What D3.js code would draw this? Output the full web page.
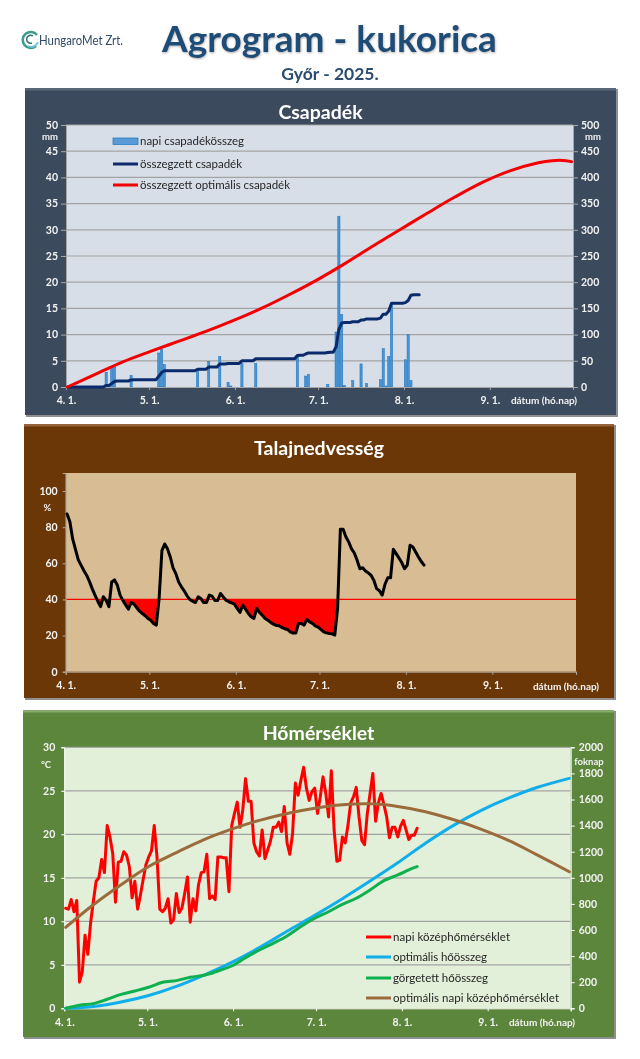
<!DOCTYPE html>
<meta charset="utf-8">
<script src="https://d3js.org/d3.v7.min.js"></script>
<style>
  html, body { margin: 0; padding: 0; background: #fff; }
  text { font-family: Lato, "Open Sans", sans-serif; }
  svg { filter: blur(0.3px); }
</style>
<body>
<div id="agrogram"></div>
<script>
// days are counted from April 1
const monthDays = [0, 30, 61, 91, 122, 153, 183];
const monthLabels = ["4. 1.", "5. 1.", "6. 1.", "7. 1.", "8. 1.", "9. 1.", ""];

// precipitation
const rainDays = [14,16,17,23,33,34,35,47,51,55,58,59,63,68,83,86,87,94,97,98,99,100,103,106,108,113,114,115,116,117,122,123,124];
const rainValues = [2.8,3.7,4.0,2.2,6.5,7.2,4.3,3.2,4.9,5.8,0.9,0.2,4.5,4.5,5.7,2.1,2.4,0.5,10.5,32.6,13.8,0.3,1.2,4.4,0.7,1.4,7.3,0.2,5.8,16,5.2,10,1.2];
const rainSum = [0,0,0,0,0,0,0,0,0,0,0,0,0,0,3,3,6.5,10.5,11.5,11.5,11.5,11.5,11.5,13.5,14,14,14,14,14,14,14,14,14,20.5,27.5,31,31,31,31,31,31,31,31,31,31,31,31,34,34,34,34,38,38,38,38,44,44,44,45,45,45,45,45,50,50,50,50,50,54,54,54,54,54,54,54,54,54,54,54,54,54,54,54,60,60.5,60.5,63,65,65,65,65,65,65,65,66,66.5,66.5,77,110,122,123,123,123,124.5,124.5,124.5,128,128,130,130,130,130,130,131.5,139,139,145,160,160,160,160,160,161,165,175,176,176,176];
const rainOptDays = [0,10,20,30,40,50,60,70,80,90,100,110,120,130,140,150,160,170,175,180,182];
const rainOptValues = [0,24,48,68,87,106,127,150,176,204,235,268,300,332,363,391,413,428,432,432,430];

// soil moisture
const soilValues = [87.3,83,73.5,67.7,62,59,56,53.4,50,46,42.4,39,36,41.5,39.5,36,49.7,50.8,48,42.4,39.5,37,34.6,38.3,37.4,35.4,33.5,32.2,31,29.5,28.5,26.7,25.8,40.5,67,70.7,68,63.5,57.5,54.3,49.7,47,44.8,42,40,39,38.3,41.4,40.5,38.3,38.3,42.4,41.8,39.4,39.4,43.3,41.4,39.6,38.7,38.1,37.4,35,32.8,36.8,34.6,32.2,30.4,29.5,35,32.8,31.3,29.5,28.5,27.3,26.3,25.6,25.4,24.5,23.8,23.4,22.1,21.4,21.4,26.7,26.7,25.8,28.9,27.6,26.7,25.4,24.7,23.4,22.1,21.5,21.2,21,20.3,35,78.8,78.8,74.6,71.8,68,65.7,61.7,57,57.6,55.8,54.7,53.4,50.6,46,44.8,42.4,48.4,52,52,67.8,65.4,63,60.4,57,59,70,69,66.3,63.5,61,59];
const soilLimit = 40;

// temperature
const tempValues = [11.5,11.4,12.5,11.1,12.4,3,4.2,8.4,6.2,9.8,12.3,14.6,15,17.1,15.6,21,19.7,17.8,12.2,16.8,16.9,18,17.6,16.3,12.7,14.6,11.4,13,14.8,16.5,17.4,18.1,21,17.4,11.4,11.1,11.5,12.6,9.8,10.2,13.2,11,11.5,13.2,15.1,9.9,12.6,11.2,14.2,15.6,15.7,17.7,12.6,12.9,12.5,17.4,17.4,17.3,17.3,13.4,21,22.4,23.7,20.8,22.8,26.4,23.8,23.8,19,18,17.5,20.5,17.2,18.2,19.2,20.8,20.8,21.4,20.3,23.2,19,17.7,20.1,25.9,24.5,26.2,27.7,25.3,23.9,24.9,25.3,22.4,24.3,26.6,24.7,22,27.3,20.5,16.9,17,19.7,19,21,23.6,24.3,25.4,22,19.3,18.8,22.4,24.7,27,21.5,23.6,24.7,23.4,22,19.6,20.8,20.8,19.7,20.9,21.6,20.5,19.4,19.9,19.9,20.7];
const tempOptDays = [0,10,20,30,40,50,60,70,80,90,100,110,120,130,140,150,160,170,182];
const tempOptValues = [9.3,11.9,14.2,16.3,17.9,19.4,20.6,21.6,22.4,23,23.4,23.5,23.2,22.6,21.7,20.6,19.3,17.7,15.7];
const heatOptDays = [0,10,20,30,40,50,60,70,80,90,100,110,120,130,140,150,160,170,182];
const heatOptValues = [0,14,48,98,168,255,352,465,590,712,840,975,1115,1265,1400,1515,1610,1690,1762];
const heatDays = [0,5,10,15,20,25,30,35,40,45,50,55,60,65,70,75,80,85,90,95,100,105,110,115,120,125,127];
const heatValues = [0,23,36,69,107,133,161,199,212,238,253,286,324,388,447,498,554,626,690,740,797,843,907,978,1022,1070,1086];

const svg = d3.select("#agrogram").append("svg")
  .attr("width", 640).attr("height", 1059)
  .style("display", "block");

const defs = svg.append("defs");
const glow = defs.append("filter").attr("id", "titleShadow").attr("x", "-5%").attr("y", "-20%").attr("width", "110%").attr("height", "140%");
glow.append("feDropShadow").attr("dx", 0.5).attr("dy", 1).attr("stdDeviation", 1).attr("flood-color", "#888").attr("flood-opacity", 0.7);

// header
svg.append("text").attr("x", 329.5).attr("y", 52).attr("text-anchor", "middle")
  .attr("font-size", 37).attr("font-weight", 700).attr("fill", "#1f4e79")
  .attr("filter", "url(#titleShadow)").text("Agrogram - kukorica");
svg.append("text").attr("x", 330).attr("y", 80).attr("text-anchor", "middle")
  .attr("font-size", 17.5).attr("font-weight", 700).attr("fill", "#2c4d70").text("Győr - 2025.");

// logo
const logo = svg.append("g");
logo.append("path").attr("d", "M37 35 A8 8 0 1 0 36 46").attr("fill", "none").attr("stroke", "#3f9a8a").attr("stroke-width", 2.5);
logo.append("path").attr("d", "M28 46 A7 7 0 0 0 38 42").attr("fill", "none").attr("stroke", "#6cc0d8").attr("stroke-width", 1.8);
logo.append("path").attr("d", "M33 36 A4 4 0 1 0 32 43").attr("fill", "none").attr("stroke", "#2f6f73").attr("stroke-width", 1.5);
logo.append("text").attr("x", 39).attr("y", 45).attr("font-size", 12.5).attr("fill", "#2e4a68")
  .attr("textLength", 84).attr("lengthAdjust", "spacingAndGlyphs").text("HungaroMet Zrt.");

function panel(box, fill, light, title, titleY) {
  svg.append("rect").attr("x", box.x + 1).attr("y", box.y + 1).attr("width", box.w + 1).attr("height", box.h + 1).attr("fill", "#8f8f8f");
  svg.append("rect").attr("x", box.x).attr("y", box.y).attr("width", box.w).attr("height", box.h).attr("fill", fill);
  svg.append("rect").attr("x", box.x).attr("y", box.y).attr("width", box.w).attr("height", 2.5).attr("fill", light);
  svg.append("text").attr("x", box.x + box.w / 2).attr("y", titleY).attr("text-anchor", "middle")
    .attr("font-size", 19.5).attr("font-weight", 700).attr("fill", "#fff").text(title);
}

function axisStyle(g, textColor, lineColor) {
  g.selectAll("text").attr("fill", textColor).attr("font-size", 10.5).attr("font-weight", 700)
    .style("font-family", "Lato, sans-serif");
  g.selectAll("line").attr("stroke", lineColor);
  g.selectAll("path").attr("stroke", lineColor);
}

function note(x, y, str, color, size, anchor) {
  svg.append("text").attr("x", x).attr("y", y).attr("text-anchor", anchor || "middle")
    .attr("font-size", size).attr("font-weight", 700).attr("fill", color).text(str);
}

function drawLine(g, x, y, days, values, color, width, curve) {
  const line = d3.line().x((d, i) => x(days[i] + 0.5)).y(d => y(d)).curve(curve || d3.curveLinear);
  g.append("path").datum(values).attr("fill", "none").attr("stroke", color)
    .attr("stroke-width", width).attr("stroke-linejoin", "round").attr("stroke-linecap", "round")
    .attr("d", line);
}

function legend(x, rows, color) {
  rows.forEach(r => {
    svg.append("line").attr("x1", x).attr("x2", x + 25).attr("y1", r.y).attr("y2", r.y)
      .attr("stroke", r.color).attr("stroke-width", 3);
    svg.append("text").attr("x", x + 27).attr("y", r.y + 3.5).attr("font-size", 11.5)
      .attr("fill", color).attr("textLength", r.len).attr("lengthAdjust", "spacing").text(r.label);
  });
}

const allDays = n => d3.range(n);

/* ---------- Csapadék ---------- */
panel({x: 25, y: 88, w: 591, h: 327}, "#3b4a5c", "#5a6776", "Csapadék", 119);
const p1 = {l: 66, r: 573, t: 125, b: 387};
const x1 = d3.scaleLinear().domain([0, 183]).range([p1.l, p1.r]);
const y1 = d3.scaleLinear().domain([0, 50]).range([p1.b, p1.t]);
const y1r = d3.scaleLinear().domain([0, 500]).range([p1.b, p1.t]);
const c1 = svg.append("g");
c1.append("rect").attr("x", p1.l).attr("y", p1.t).attr("width", p1.r - p1.l).attr("height", p1.b - p1.t).attr("fill", "#d8dee8");
c1.append("g").selectAll("line").data(d3.range(5, 50, 5)).join("line")
  .attr("x1", p1.l).attr("x2", p1.r).attr("y1", d => y1(d)).attr("y2", d => y1(d))
  .attr("stroke", "#a3a3a3").attr("stroke-width", 1.2);
c1.append("line").attr("x1", p1.l).attr("x2", p1.r).attr("y1", p1.t).attr("y2", p1.t).attr("stroke", "#a3a3a3");
c1.append("g").selectAll("rect").data(rainValues).join("rect")
  .attr("x", (d, i) => x1(rainDays[i] + 0.5) - 1.1).attr("width", 2.2)
  .attr("y", d => y1(d)).attr("height", d => y1(0) - y1(d))
  .attr("fill", "#4a94d4").attr("stroke", "#1a74bd").attr("stroke-width", 0.5);
axisStyle(c1.append("g").attr("transform", `translate(0,${p1.b})`)
  .call(d3.axisBottom(x1).tickValues(monthDays).tickFormat((d, i) => monthLabels[i]).tickSize(3).tickPadding(7)), "#f2f2f2", "#a6a6a6");
axisStyle(c1.append("g").attr("transform", `translate(${p1.l},0)`)
  .call(d3.axisLeft(y1).tickValues(d3.range(0, 51, 5)).tickSize(5).tickPadding(3)), "#f2f2f2", "#a6a6a6");
axisStyle(c1.append("g").attr("transform", `translate(${p1.r},0)`)
  .call(d3.axisRight(y1r).tickValues(d3.range(0, 501, 50)).tickFormat(d3.format("d")).tickSize(5).tickPadding(3)), "#f2f2f2", "#a6a6a6");
drawLine(c1, x1, y1r, allDays(rainSum.length), rainSum, "#0b2a6b", 3);
drawLine(c1, x1, y1r, rainOptDays, rainOptValues, "#f40000", 3, d3.curveCatmullRom);
note(50, 140, "mm", "#f2f2f2", 9.5);
note(593, 140, "mm", "#f2f2f2", 9.5);
note(544, 404, "dátum (hó.nap)", "#f2f2f2", 10);
c1.append("rect").attr("x", 113).attr("y", 138).attr("width", 25).attr("height", 6.5)
  .attr("fill", "#5b9bd5").attr("stroke", "#1a74bd").attr("stroke-width", 0.7);
svg.append("text").attr("x", 140).attr("y", 145).attr("font-size", 11.5).attr("fill", "#262626")
  .attr("textLength", 104).text("napi csapadékösszeg");
legend(113, [
  {y: 164, color: "#0b2a6b", label: "összegzett csapadék", len: 102},
  {y: 185, color: "#f40000", label: "összegzett optimális csapadék", len: 150}
], "#262626");

/* ---------- Talajnedvesség ---------- */
panel({x: 24, y: 424, w: 590, h: 274}, "#6b3707", "#94633a", "Talajnedvesség", 455);
const p2 = {l: 65.7, r: 576, t: 473, b: 671.7};
const x2 = d3.scaleLinear().domain([0, 183]).range([p2.l, p2.r]);
const y2 = d3.scaleLinear().domain([0, 110]).range([p2.b, p2.t]);
const c2 = svg.append("g");
c2.append("rect").attr("x", p2.l).attr("y", p2.t).attr("width", p2.r - p2.l).attr("height", p2.b - p2.t).attr("fill", "#d8bc93");
defs.append("clipPath").attr("id", "belowLimit").append("rect")
  .attr("x", p2.l).attr("y", y2(soilLimit)).attr("width", p2.r - p2.l).attr("height", p2.b - y2(soilLimit));
c2.append("path").datum(soilValues).attr("clip-path", "url(#belowLimit)").attr("fill", "#ff0000")
  .attr("d", d3.area().x((d, i) => x2(i + 0.5)).y0(y2(soilLimit)).y1(d => y2(d)));
c2.append("line").attr("x1", p2.l).attr("x2", p2.r).attr("y1", y2(soilLimit)).attr("y2", y2(soilLimit))
  .attr("stroke", "#ff0000").attr("stroke-width", 1.2);
axisStyle(c2.append("g").attr("transform", `translate(0,${p2.b})`)
  .call(d3.axisBottom(x2).tickValues(monthDays).tickFormat((d, i) => monthLabels[i]).tickSize(3).tickPadding(7)), "#f2f2f2", "#b0a89c");
axisStyle(c2.append("g").attr("transform", `translate(${p2.l},0)`)
  .call(d3.axisLeft(y2).tickValues(d3.range(0, 101, 20)).tickSize(3).tickPadding(5)), "#f2f2f2", "#b0a89c");
drawLine(c2, x2, y2, allDays(soilValues.length), soilValues, "#000", 3);
note(47.5, 511, "%", "#f2f2f2", 9.5);
note(566, 690, "dátum (hó.nap)", "#f2f2f2", 10);

/* ---------- Hőmérséklet ---------- */
panel({x: 23, y: 710, w: 591, h: 327}, "#5c863c", "#86a96c", "Hőmérséklet", 740);
const p3 = {l: 64.3, r: 570.7, t: 747.3, b: 1008.3};
const x3 = d3.scaleLinear().domain([0, 183]).range([p3.l, p3.r]);
const y3 = d3.scaleLinear().domain([0, 30]).range([p3.b, p3.t]);
const y3r = d3.scaleLinear().domain([0, 2000]).range([p3.b, p3.t]);
const c3 = svg.append("g");
c3.append("rect").attr("x", p3.l).attr("y", p3.t).attr("width", p3.r - p3.l).attr("height", p3.b - p3.t).attr("fill", "#e2efd9");
c3.append("g").selectAll("line").data(d3.range(5, 30, 5)).join("line")
  .attr("x1", p3.l).attr("x2", p3.r).attr("y1", d => y3(d)).attr("y2", d => y3(d))
  .attr("stroke", "#a3a3a3").attr("stroke-width", 1.2);
c3.append("line").attr("x1", p3.l).attr("x2", p3.r).attr("y1", p3.t).attr("y2", p3.t).attr("stroke", "#a3a3a3");
axisStyle(c3.append("g").attr("transform", `translate(0,${p3.b})`)
  .call(d3.axisBottom(x3).tickValues(monthDays).tickFormat((d, i) => monthLabels[i]).tickSize(3).tickPadding(7)), "#f2f2f2", "#fff");
axisStyle(c3.append("g").attr("transform", `translate(${p3.l},0)`)
  .call(d3.axisLeft(y3).tickValues(d3.range(0, 31, 5)).tickSize(3).tickPadding(6)), "#f2f2f2", "#fff");
axisStyle(c3.append("g").attr("transform", `translate(${p3.r},0)`)
  .call(d3.axisRight(y3r).tickValues(d3.range(0, 2001, 200)).tickFormat(d3.format("d")).tickSize(4).tickPadding(4)), "#f2f2f2", "#fff");
drawLine(c3, x3, y3r, heatOptDays, heatOptValues, "#10aeea", 3, d3.curveCatmullRom);
drawLine(c3, x3, y3r, heatDays, heatValues, "#0fb050", 3, d3.curveCatmullRom);
drawLine(c3, x3, y3, allDays(tempValues.length), tempValues, "#ff0000", 3);
drawLine(c3, x3, y3, tempOptDays, tempOptValues, "#9c6b3c", 3, d3.curveCatmullRom);
note(46, 768, "°C", "#f2f2f2", 9.5);
note(589, 765, "foknap", "#f2f2f2", 9.5);
note(542, 1026, "dátum (hó.nap)", "#f2f2f2", 10);
legend(366, [
  {y: 937, color: "#ff0000", label: "napi középhőmérséklet", len: 117},
  {y: 957, color: "#10aeea", label: "optimális hőösszeg", len: 94},
  {y: 978, color: "#0fb050", label: "görgetett hőösszeg", len: 95},
  {y: 998, color: "#9c6b3c", label: "optimális napi középhőmérséklet", len: 166}
], "#262626");
</script>
</body>
